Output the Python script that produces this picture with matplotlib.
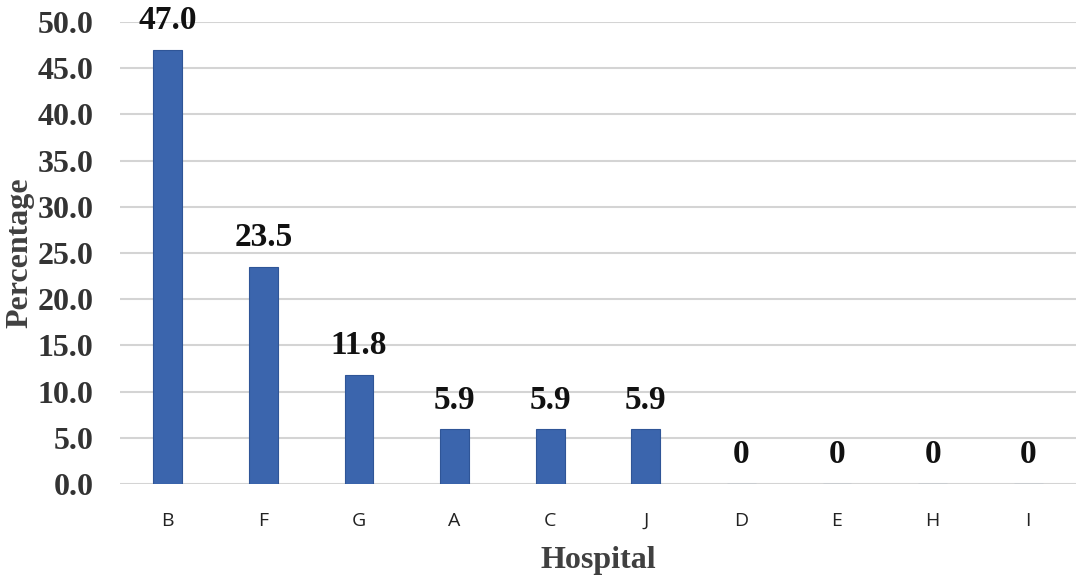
import matplotlib.pyplot as plt

# dane
szpitale = ['B', 'F', 'G', 'A', 'C', 'J', 'D', 'E', 'H', 'I']
procenty = [47.0, 23.5, 11.8, 5.9, 5.9, 5.9, 0, 0, 0, 0]
etykiety = ['47.0', '23.5', '11.8', '5.9', '5.9', '5.9', '0', '0', '0', '0']
yticki = [0, 5, 10, 15, 20, 25, 30, 35, 40, 45, 50]

SERIF = ['Liberation Serif', 'DejaVu Serif']
KOLOR_SLUPKA = '#3B65AD'

fig = plt.figure(figsize=(10.84, 5.82), dpi=100)
ax = fig.add_axes([0.1107, 0.1684, 0.8819, 0.7938])

x = range(len(szpitale))
slupki = ax.bar(x, procenty, width=0.3, color=KOLOR_SLUPKA,
                edgecolor='#2F5597', linewidth=0.8, zorder=3)

for xi, wart, tekst in zip(x, procenty, etykiety):
    ax.annotate(tekst, (xi, wart), xytext=(0, 10), textcoords='offset points',
                ha='center', va='bottom', fontsize=24, fontweight='bold',
                family=SERIF, color='#111111', annotation_clip=False)

ax.set_xlim(-0.5, len(szpitale) - 0.5)
ax.set_ylim(0, 50)
ax.set_yticks(yticki)
ax.set_yticklabels([f'{t:.1f}' for t in yticki], family=SERIF,
                   fontweight='bold', fontsize=23, color='#333333')
ax.set_xticks(list(x))
ax.set_xticklabels(szpitale, family=['Open Sans', 'DejaVu Sans'],
                   fontsize=14, color='#222222')
ax.tick_params(axis='both', length=0)
ax.tick_params(axis='x', pad=20)
ax.tick_params(axis='y', pad=19)

ax.grid(axis='y', color='#D4D4D4', linewidth=1.5, zorder=0)
for s in ax.spines.values():
    s.set_visible(False)

ax.set_xlabel('Hospital', family=SERIF, fontweight='bold', fontsize=23,
              color='#404040', labelpad=12)
ax.set_ylabel('Percentage', family=SERIF, fontweight='bold', fontsize=23,
              color='#404040', labelpad=2)

fig.savefig('out.png', dpi=100)
